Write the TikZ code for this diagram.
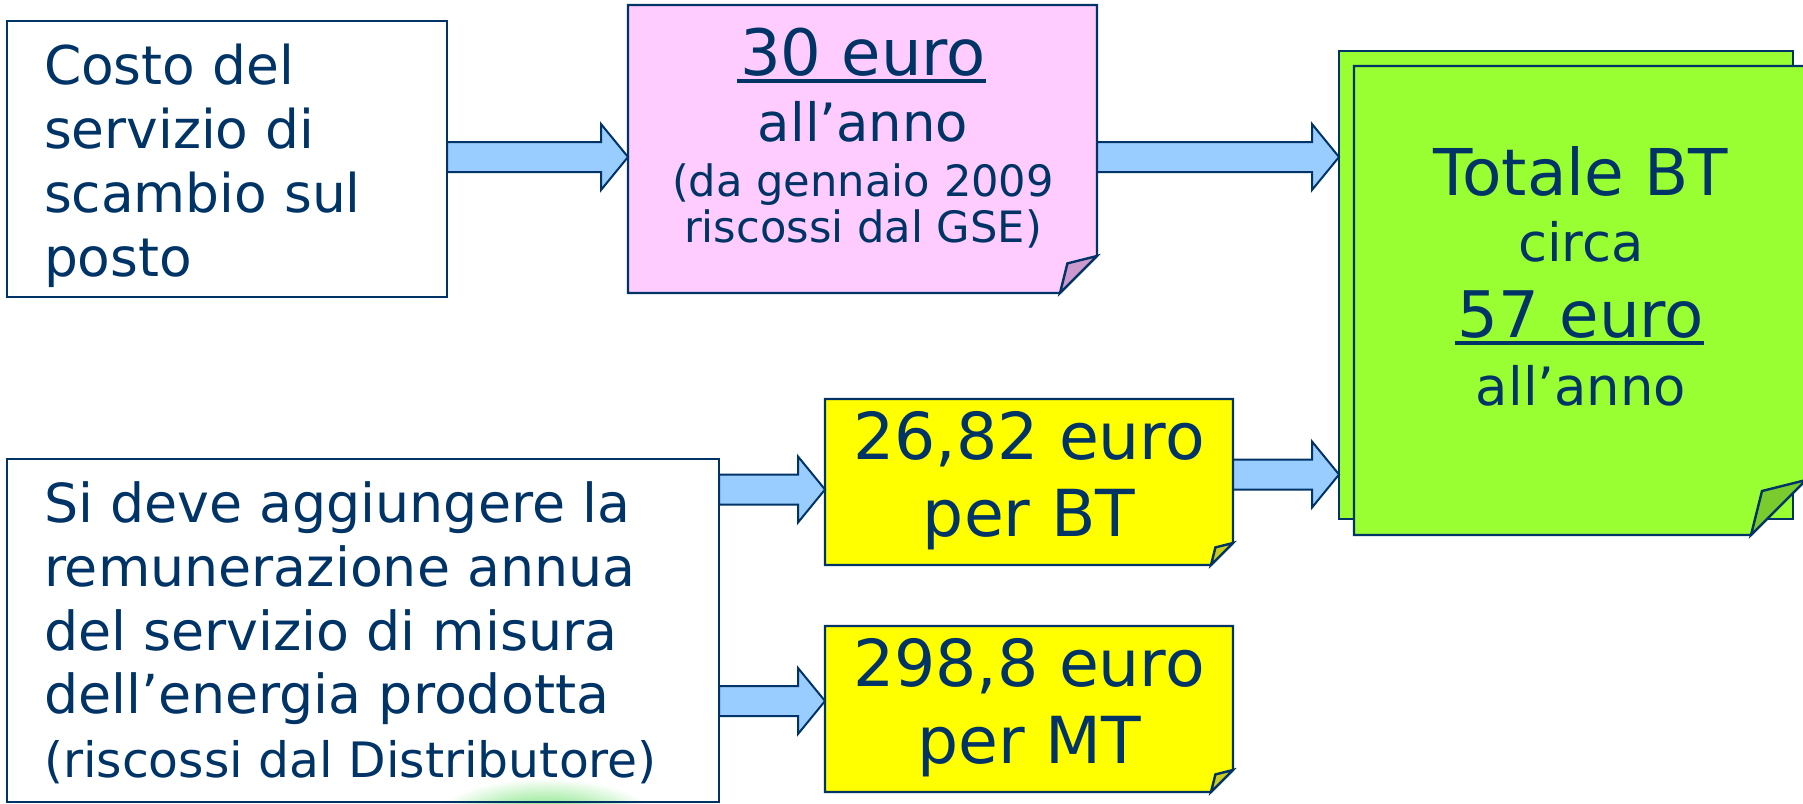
\documentclass[tikz,border=0pt]{standalone}
\usepackage{fontspec}
\setmainfont{DejaVu Sans}
\usetikzlibrary{calc}
\definecolor{navy}{HTML}{003366}
\definecolor{pinkfill}{HTML}{FFCCFF}
\definecolor{pinkfold}{HTML}{CC99CC}
\definecolor{yelfill}{HTML}{FFFF00}
\definecolor{yelfold}{HTML}{CCCC1A}
\definecolor{grnfill}{HTML}{99FF33}
\definecolor{grnfold}{HTML}{7ACC2E}
\definecolor{arrfill}{HTML}{99CCFF}
\definecolor{glow}{HTML}{4CD94C}
\newcommand{\fsz}[1]{\fontsize{#1}{#1}\selectfont}
\newcommand{\notebody}[4]{%
  \filldraw[boxline, fill=#2] (#1.north west) -- (#1.north east) -- ($(#1.south east)+(0,-#4)$) -- ($(#1.south east)+(-#4,0)$) -- (#1.south west) -- cycle;
  \filldraw[boxline, fill=#3] ($(#1.south east)+(0,-#4)$) -- ($(#1.south east)+(-0.8*#4,-0.8*#4)$) -- ($(#1.south east)+(-#4,0)$) -- cycle;}
\newcommand{\blockarrow}[2]{%
  \filldraw[arrowline] let \p1=(#1), \p2=(#2) in
    (\x1,\y1+15pt) -- (\x2-27pt,\y1+15pt) -- (\x2-27pt,\y1+33pt) -- (\x2,\y1)
    -- (\x2-27pt,\y1-33pt) -- (\x2-27pt,\y1-15pt) -- (\x1,\y1-15pt) -- cycle;}
\begin{document}
\begin{tikzpicture}[x=1pt,y=-1pt,
  boxline/.style={draw=navy, line width=2.4pt, line join=miter},
  arrowline/.style={draw=navy, line width=2pt, fill=arrfill, line join=miter},
  plainbox/.style={boxline, rectangle, inner sep=0pt, outer sep=0pt},
  holder/.style={rectangle, draw=none, inner sep=0pt, outer sep=0pt},
  txtl/.style={inner sep=0pt, outer sep=0pt, text=navy, anchor=base west},
  txtc/.style={inner sep=0pt, outer sep=0pt, text=navy, anchor=base},
  uline/.style={draw=navy, line width=3.6pt}]
\useasboundingbox (0,0) rectangle (1803,803);
\fill[white] (0,0) rectangle (1803,803);

% soft green glow at bottom of lower-left box
\shade[inner color=glow, outer color=white] (545,824) ellipse [x radius=115pt, y radius=46pt];

% boxes
\node[plainbox, fill=white, minimum width=440pt, minimum height=276pt] (cost) at (227,159) {};
\node[plainbox, minimum width=712pt, minimum height=343pt] (meas) at (363,630.5) {};
\node[holder, minimum width=469pt, minimum height=288pt] (pink) at (862.5,149) {};
\notebody{pink}{pinkfill}{pinkfold}{37}
\node[holder, minimum width=408pt, minimum height=166pt] (yel1) at (1029,482) {};
\notebody{yel1}{yelfill}{yelfold}{22}
\node[holder, minimum width=408pt, minimum height=166pt] (yel2) at (1029,709) {};
\notebody{yel2}{yelfill}{yelfold}{22}
\node[plainbox, fill=grnfill, minimum width=454pt, minimum height=468pt] (gback) at (1566,285) {};
\node[holder, minimum width=452pt, minimum height=469pt] (gfront) at (1580,300.5) {};
\notebody{gfront}{grnfill}{grnfold}{55}

% connectors
\coordinate (a1s) at (cost.east |- 0,157);  \coordinate (a1e) at (pink.west |- 0,157);
\coordinate (a2s) at (pink.east |- 0,157);  \coordinate (a2e) at (gback.west |- 0,157);
\coordinate (a3s) at (yel1.east |- 0,474.5); \coordinate (a3e) at (gback.west |- 0,474.5);
\coordinate (a4s) at (meas.east |- 0,489.5); \coordinate (a4e) at (yel1.west |- 0,489.5);
\coordinate (a5s) at (meas.east |- 0,701);  \coordinate (a5e) at (yel2.west |- 0,701);
\blockarrow{a1s}{a1e}
\blockarrow{a2s}{a2e}
\blockarrow{a3s}{a3e}
\blockarrow{a4s}{a4e}
\blockarrow{a5s}{a5e}

% texts: box 1
\node[txtl, font=\fsz{53.4}] (tc1) at (44,84) {Costo del};
\node[txtl, font=\fsz{53.4}] (tc2) at (44,148) {servizio di};
\node[txtl, font=\fsz{53.4}] (tc3) at (44,212) {scambio sul};
\node[txtl, font=\fsz{53.4}] (tc4) at (44,276) {posto};
% texts: box 2
\node[txtl, font=\fsz{53.8}] (tm1) at (44,522) {Si deve aggiungere la};
\node[txtl, font=\fsz{53.8}] (tm2) at (44,586) {remunerazione annua};
\node[txtl, font=\fsz{53.8}] (tm3) at (44,650) {del servizio di misura};
\node[txtl, font=\fsz{53.8}] (tm4) at (44,713) {dell’energia prodotta};
\node[txtl, font=\fsz{48.8}] (tm5) at (44,777) {(riscossi dal Distributore)};
% texts: pink
\node[txtc, font=\fsz{64}] (tp1) at (863,75) {30 euro};
\draw[uline] ($(tp1.base west)+(-3,6)$) -- ($(tp1.base east)+(0,6)$);
\node[txtc, font=\fsz{52.8}] (tp2) at (863,141) {all’anno};
\node[txtc, font=\fsz{43.2}] (tp3) at (863,196) {(da gennaio 2009};
\node[txtc, font=\fsz{43.2}] (tp4) at (863,242) {riscossi dal GSE)};
% texts: green
\node[txtc, font=\fsz{64.5}] (tg1) at (1581,195) {Totale BT};
\node[txtc, font=\fsz{52.8}] (tg2) at (1581,261) {circa};
\node[txtc, font=\fsz{64.2}] (tg3) at (1581,337) {57 euro};
\draw[uline] ($(tg3.base west)+(-3,6)$) -- ($(tg3.base east)+(0,6)$);
\node[txtc, font=\fsz{52.8}] (tg4) at (1581,405) {all’anno};
% texts: yellow
\node[txtc, font=\fsz{64.8}] (ty1) at (1029,459) {26,82 euro};
\node[txtc, font=\fsz{64.8}] (ty2) at (1029,536) {per BT};
\node[txtc, font=\fsz{64.8}] (ty3) at (1029,686) {298,8 euro};
\node[txtc, font=\fsz{64.8}] (ty4) at (1029,763) {per MT};
\end{tikzpicture}
\end{document}
